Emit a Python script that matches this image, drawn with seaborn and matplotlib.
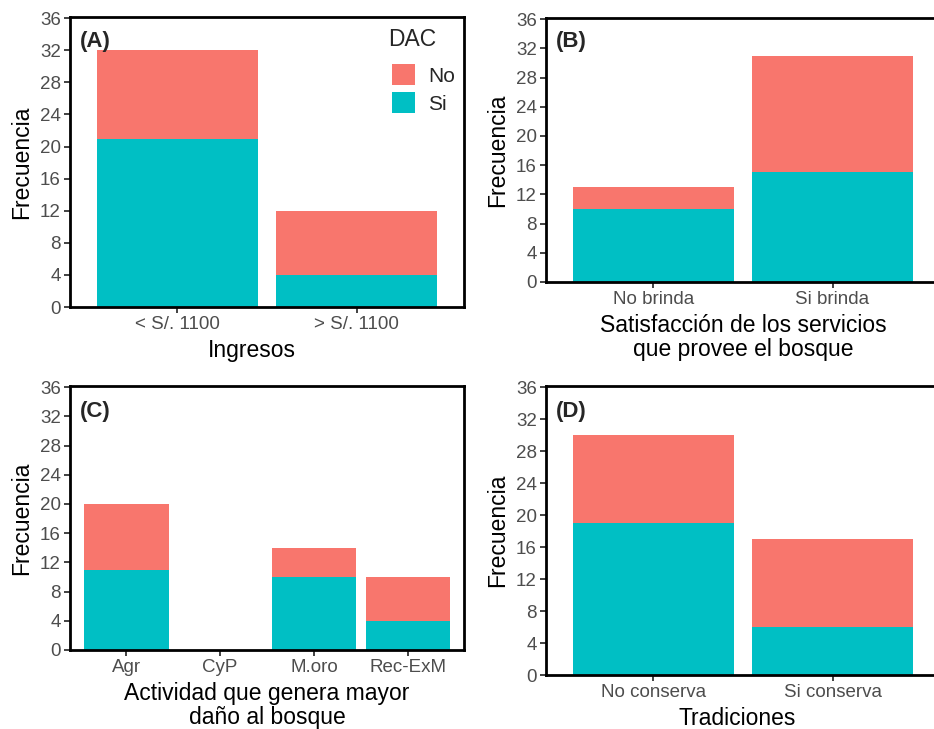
import matplotlib
matplotlib.use('Agg')
import matplotlib.pyplot as plt
import seaborn as sns
from matplotlib.patches import Patch

# 数据: 各面板的类别、DAC=Si 的频数和 DAC=No 的频数
cats_a = ['< S/. 1100', '> S/. 1100']
si_a = [21, 4]
no_a = [11, 8]

cats_b = ['No brinda', 'Si brinda']
si_b = [10, 15]
no_b = [3, 16]

cats_c = ['Agr', 'CyP', 'M.oro', 'Rec-ExM']
si_c = [11, 0, 10, 4]
no_c = [9, 0, 4, 6]

cats_d = ['No conserva', 'Si conserva']
si_d = [19, 6]
no_d = [11, 11]

col_no = '#F8766D'
col_si = '#00BFC4'

sns.set_theme(style='white')
plt.rcParams['font.family'] = ['Liberation Sans', 'DejaVu Sans']

fig = plt.figure(figsize=(9.34, 7.29), dpi=100)
W, H = 934, 729


def make_ax(left, top, right, bottom):
    return fig.add_axes([left / W, 1 - bottom / H, (right - left) / W, (bottom - top) / H])


def panel(ax, cats, si, no, letter, xlabel, lab_x, lab_y, let_y):
    total = [a + b for a, b in zip(si, no)]
    # 先画总数(No 颜色)，再叠加 Si，得到堆叠效果
    sns.barplot(x=cats, y=total, order=cats, color=col_no, saturation=1,
                width=0.9, errorbar=None, linewidth=0, ax=ax)
    sns.barplot(x=cats, y=si, order=cats, color=col_si, saturation=1,
                width=0.9, errorbar=None, linewidth=0, ax=ax)
    ax.set_xlim(-0.6, len(cats) - 0.4)
    ax.set_ylim(0, 36.15)
    ax.set_yticks(range(0, 37, 4))
    for s in ax.spines.values():
        s.set_visible(True)
        s.set_color('black')
        s.set_linewidth(2)
    ax.tick_params(axis='both', which='both', left=True, bottom=True,
                   length=4, width=1.3, color='#333333',
                   labelsize=13.5, labelcolor='#4D4D4D', pad=2.5)
    ax.set_ylabel('Frecuencia', fontsize=16.5, color='black')
    ax.yaxis.set_label_coords(-0.094, 0.5)
    ax.set_xlabel(xlabel, fontsize=16.5, color='black', linespacing=1.07)
    ax.xaxis.set_label_coords(lab_x, lab_y)
    ax.text(0.025, let_y, letter, transform=ax.transAxes, fontsize=16,
            fontweight='bold', va='baseline', ha='left')


ax_a = make_ax(70, 17, 464, 307)
panel(ax_a, cats_a, si_a, no_a, '(A)', 'Ingresos', 0.462, -0.110, 0.897)

# 图例标题单独放置，与色块之间留出较大间距
ax_a.text((388 - 70) / 394, (307 - 46) / 290, 'DAC', transform=ax_a.transAxes,
          fontsize=16.5, va='baseline', ha='left')
handles = [Patch(facecolor=col_no, edgecolor='none', label='No'),
           Patch(facecolor=col_si, edgecolor='none', label='Si')]
ax_a.legend(handles=handles, loc='upper left',
            bbox_to_anchor=((392 - 70) / 394, (307 - 64) / 290), frameon=False,
            fontsize=15, handlelength=1.12, handleheight=1.2,
            labelspacing=0.3, handletextpad=0.6, borderpad=0,
            borderaxespad=0)

ax_b = make_ax(546, 18, 940, 282)
panel(ax_b, cats_b, si_b, no_b, '(B)',
      'Satisfacción de los servicios\nque provee el bosque', 0.5, -0.121, 0.890)

ax_c = make_ax(70, 386, 464, 650)
panel(ax_c, cats_c, si_c, no_c, '(C)',
      'Actividad que genera mayor\ndaño al bosque', 0.5, -0.121, 0.883)

ax_d = make_ax(546, 386, 940, 675)
panel(ax_d, cats_d, si_d, no_d, '(D)', 'Tradiciones', 0.485, -0.112, 0.893)

fig.savefig('out.png', dpi=100)
